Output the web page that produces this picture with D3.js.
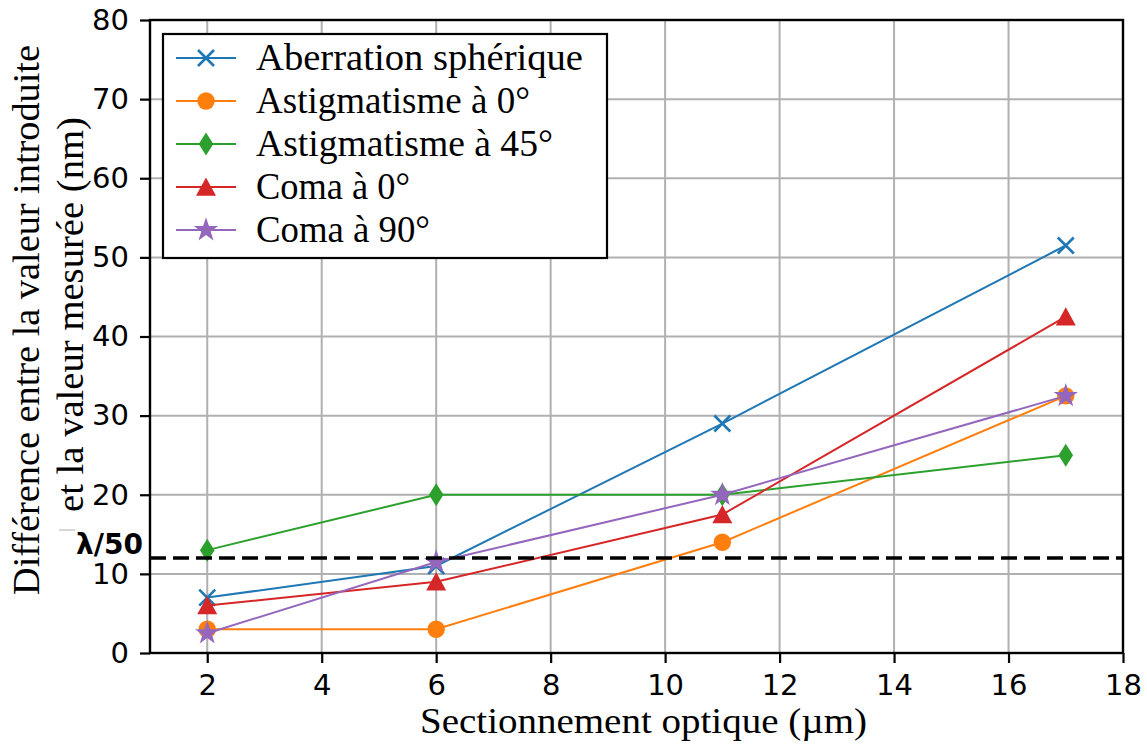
<!DOCTYPE html>
<html>
<head>
<meta charset="utf-8">
<script src="https://cdn.jsdelivr.net/npm/d3@7/dist/d3.min.js"></script>
<style>
  html, body { margin: 0; padding: 0; background: #fff; }
  svg { display: block; }
</style>
</head>
<body>
<svg id="chart" width="1147" height="744"></svg>
<script>
// ---------------- data ----------------
const xValues = [2, 6, 11, 17];
const seriesNames = ["Aberration sphérique", "Astigmatisme à 0°", "Astigmatisme à 45°", "Coma à 0°", "Coma à 90°"];
const aberrationSpherique = [7, 11, 29, 51.5];
const astigmatisme0 = [3, 3, 14, 32.5];
const astigmatisme45 = [13, 20, 20, 25];
const coma0 = [6, 9, 17.5, 42.5];
const coma90 = [2.5, 11.5, 20, 32.5];
const seriesValues = [aberrationSpherique, astigmatisme0, astigmatisme45, coma0, coma90];
const xTicks = [2, 4, 6, 8, 10, 12, 14, 16, 18];
const yTicks = [0, 10, 20, 30, 40, 50, 60, 70, 80];
const thresholdValue = 12;
const thresholdLabel = "λ/50";
const xLabel = "Sectionnement optique (µm)";
const yLabelLines = ["Différence entre la valeur introduite", "et la valeur mesurée (nm)"];

// ---------------- styles / layout ----------------
const colors = ["#1f77b4", "#ff7f0e", "#2ca02c", "#d62728", "#9467bd"];
const markers = ["x", "circle", "thin_diamond", "triangle", "star"];
const margin = { left: 150, right: 1123, top: 20, bottom: 653 };
const serif = "'Liberation Serif', 'DejaVu Serif', serif";
const sans = "'DejaVu Sans', sans-serif";
const legendTextLengths = [327, 274, 297, 154, 174];

const svg = d3.select("#chart");

const x = d3.scaleLinear().domain([1, 18]).range([margin.left, margin.right]);
const y = d3.scaleLinear().domain([0, 80]).range([margin.bottom, margin.top]);

// grid
const grid = svg.append("g");
grid.selectAll("line.gx").data(xTicks).join("line")
  .attr("x1", d => x(d)).attr("x2", d => x(d))
  .attr("y1", margin.top).attr("y2", margin.bottom)
  .attr("stroke", "#b0b0b0").attr("stroke-width", 2);
grid.selectAll("line.gy").data(yTicks).join("line")
  .attr("x1", margin.left).attr("x2", margin.right)
  .attr("y1", d => y(d)).attr("y2", d => y(d))
  .attr("stroke", "#b0b0b0").attr("stroke-width", 2);

// marker drawing
function drawMarker(g, type, color) {
  if (type === "x") {
    const s = 8;
    g.append("path").attr("d", `M${-s},${-s}L${s},${s}M${-s},${s}L${s},${-s}`)
      .attr("stroke", color).attr("stroke-width", 2.6).attr("fill", "none");
  } else if (type === "circle") {
    g.append("circle").attr("r", 8.7).attr("fill", color);
  } else if (type === "thin_diamond") {
    g.append("path").attr("d", "M0,-11.5L7.3,0L0,11.5L-7.3,0Z").attr("fill", color);
  } else if (type === "triangle") {
    g.append("path").attr("d", "M0,-9.5L10,8.8L-10,8.8Z").attr("fill", color);
  } else if (type === "star") {
    g.append("path").attr("d", d3.symbol().type(d3.symbolStar).size(185)()).attr("fill", color);
  }
}

// series
const line = d3.line().x(d => x(d[0])).y(d => y(d[1]));
seriesValues.forEach((vals, i) => {
  const pts = xValues.map((xv, j) => [xv, vals[j]]);
  const g = svg.append("g");
  g.append("path").datum(pts).attr("d", line)
    .attr("fill", "none").attr("stroke", colors[i]).attr("stroke-width", 2);
  g.selectAll("g.m").data(pts).join("g")
    .attr("transform", d => `translate(${x(d[0])},${y(d[1])})`)
    .each(function () { drawMarker(d3.select(this), markers[i], colors[i]); });
});

// threshold dashed line
svg.append("line")
  .attr("x1", margin.left).attr("x2", margin.right)
  .attr("y1", y(thresholdValue)).attr("y2", y(thresholdValue))
  .attr("stroke", "#000").attr("stroke-width", 3.5)
  .attr("stroke-dasharray", "16,7");

// axes
const xAxis = d3.axisBottom(x).tickValues(xTicks).tickSize(10).tickPadding(10).tickFormat(d3.format("d"));
const yAxis = d3.axisLeft(y).tickValues(yTicks).tickSize(10).tickPadding(11).tickFormat(d3.format("d"));
const gx = svg.append("g").attr("transform", `translate(0,${margin.bottom})`).call(xAxis);
const gy = svg.append("g").attr("transform", `translate(${margin.left},0)`).call(yAxis);
[gx, gy].forEach(g => {
  g.select(".domain").remove();
  g.selectAll(".tick line").attr("stroke", "#000").attr("stroke-width", 2.2);
  g.selectAll(".tick text").attr("fill", "#000").style("font-family", sans).style("font-size", "29px");
});
gx.selectAll(".tick text").attr("dy", "0.76em");

// spines
svg.append("rect")
  .attr("x", margin.left).attr("y", margin.top)
  .attr("width", margin.right - margin.left).attr("height", margin.bottom - margin.top)
  .attr("fill", "none").attr("stroke", "#000").attr("stroke-width", 2.4);

// threshold label
svg.append("line").attr("x1", 59).attr("x2", 75).attr("y1", 530).attr("y2", 530)
  .attr("stroke", "#b0b0b0").attr("stroke-width", 1);
svg.append("text").attr("x", 76).attr("y", 554)
  .style("font-family", sans).style("font-size", "28px").style("font-weight", "bold")
  .text(thresholdLabel);

// axis labels
svg.append("text").attr("x", 643.5).attr("y", 733).attr("text-anchor", "middle")
  .style("font-family", serif).style("font-size", "35px")
  .attr("textLength", 447).attr("lengthAdjust", "spacingAndGlyphs")
  .text(xLabel);
const yLabelPos = [{ bx: 39, cy: 320, len: 550 }, { bx: 83, cy: 314.5, len: 395 }];
yLabelLines.forEach((t, i) => {
  svg.append("text")
    .attr("transform", `translate(${yLabelPos[i].bx},${yLabelPos[i].cy}) rotate(-90)`)
    .attr("text-anchor", "middle")
    .style("font-family", serif).style("font-size", "37px")
    .attr("textLength", yLabelPos[i].len).attr("lengthAdjust", "spacingAndGlyphs")
    .text(t);
});

// legend
const legend = svg.append("g");
legend.append("rect").attr("x", 163).attr("y", 34).attr("width", 444).attr("height", 224)
  .attr("fill", "#fff").attr("stroke", "#000").attr("stroke-width", 2.2);
seriesNames.forEach((name, i) => {
  const cy = 58 + i * 43;
  legend.append("line").attr("x1", 176).attr("x2", 236).attr("y1", cy).attr("y2", cy)
    .attr("stroke", colors[i]).attr("stroke-width", 2);
  const mg = legend.append("g").attr("transform", `translate(206,${cy})`);
  drawMarker(mg, markers[i], colors[i]);
  legend.append("text").attr("x", 256).attr("y", cy + 12)
    .style("font-family", serif).style("font-size", "37px")
    .attr("textLength", legendTextLengths[i]).attr("lengthAdjust", "spacingAndGlyphs")
    .text(name);
});
</script>
</body>
</html>
